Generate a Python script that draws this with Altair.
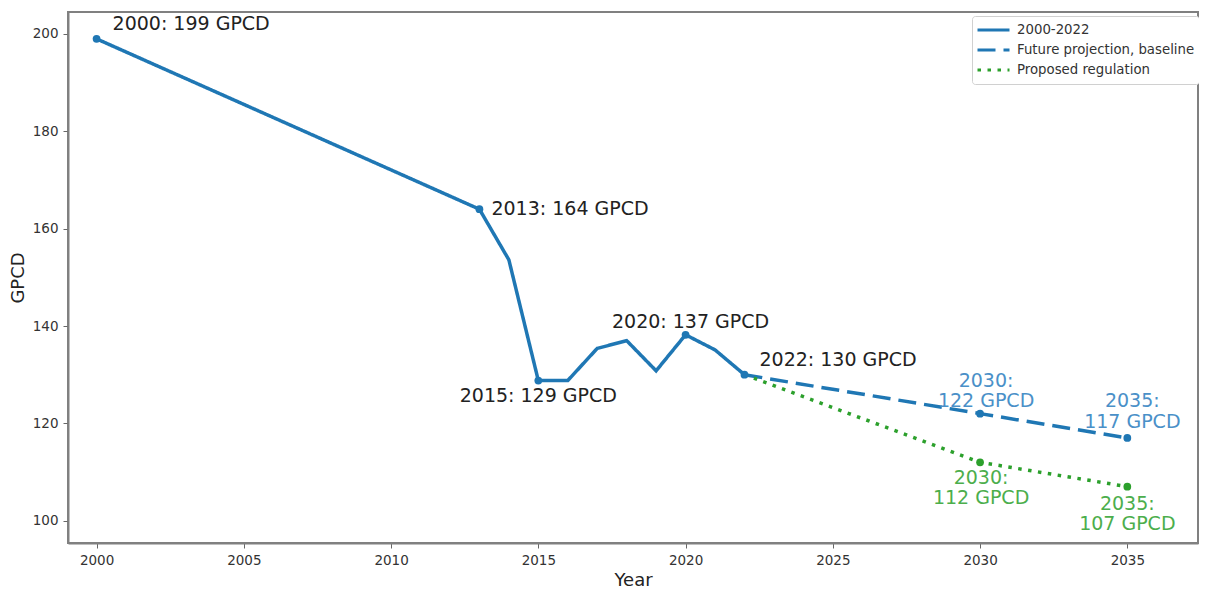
import altair as alt
import pandas as pd

# ---- data ----
hist_years = [2000, 2013, 2014, 2015, 2016, 2017, 2018, 2019, 2020, 2021, 2022]
hist_gpcd = [199, 164, 153.6, 128.8, 128.8, 135.4, 137.0, 130.8, 138.2, 135.1, 130]

base_years = [2022, 2030, 2035]
base_gpcd = [130, 122, 117]

reg_years = [2022, 2030, 2035]
reg_gpcd = [130, 112, 107]

series_names = ["2000-2022", "Future projection, baseline", "Proposed regulation"]

marker_hist_years = [2000, 2013, 2015, 2020, 2022]
marker_proj_years = [2030, 2035]

ann_years = [2000, 2013, 2015, 2020, 2022, 2030, 2035, 2030, 2035]
ann_values = [199, 164, 128.8, 138.2, 130, 122, 117, 112, 107]
ann_labels = [
    "2000: 199 GPCD", "2013: 164 GPCD", "2015: 129 GPCD", "2020: 137 GPCD",
    "2022: 130 GPCD", "2030:\n122 GPCD", "2035:\n117 GPCD",
    "2030:\n112 GPCD", "2035:\n107 GPCD",
]

x_ticks = [2000, 2005, 2010, 2015, 2020, 2025, 2030, 2035]
y_ticks = [100, 120, 140, 160, 180, 200]

# ---- tables ----
rows = []
for y, v in zip(hist_years, hist_gpcd):
    rows.append({"series": series_names[0], "year": y, "gpcd": v})
for y, v in zip(base_years, base_gpcd):
    rows.append({"series": series_names[1], "year": y, "gpcd": v})
for y, v in zip(reg_years, reg_gpcd):
    rows.append({"series": series_names[2], "year": y, "gpcd": v})
lines_df = pd.DataFrame(rows)

mk = []
for y, v in zip(hist_years, hist_gpcd):
    if y in marker_hist_years:
        mk.append({"series": series_names[0], "year": y, "gpcd": v})
for y, v in zip(base_years, base_gpcd):
    if y in marker_proj_years:
        mk.append({"series": series_names[1], "year": y, "gpcd": v})
for y, v in zip(reg_years, reg_gpcd):
    if y in marker_proj_years:
        mk.append({"series": series_names[2], "year": y, "gpcd": v})
markers_df = pd.DataFrame(mk)

ann_df = pd.DataFrame({"year": ann_years, "gpcd": ann_values, "label": ann_labels})

FONT = "DejaVu Sans"
BLUE = "#1f77b4"
GREEN = "#2ca02c"

xscale = alt.Scale(domain=[1999.03, 2037.4], nice=False, zero=False)
yscale = alt.Scale(domain=[95.42, 204.52], nice=False, zero=False)

color_scale = alt.Scale(domain=series_names, range=[BLUE, BLUE, GREEN])
dash_scale = alt.Scale(domain=series_names, range=[[1, 0], [18, 8], [3.5, 6.5]])

x_enc = alt.X("year:Q", scale=xscale,
              axis=alt.Axis(values=x_ticks, format="d", title="Year", grid=False))
y_enc = alt.Y("gpcd:Q", scale=yscale,
              axis=alt.Axis(values=y_ticks, title="GPCD", grid=False))

lines = alt.Chart(lines_df).mark_line(strokeWidth=3.5, strokeCap="butt").encode(
    x=x_enc,
    y=y_enc,
    color=alt.Color("series:N", scale=color_scale,
                    legend=alt.Legend(title=None, orient="none", legendX=904, legendY=4,
                                      symbolType="stroke", symbolSize=1024,
                                      symbolStrokeWidth=3, rowPadding=0,
                                      clipHeight=20,
                                      labelFontSize=13.3, labelFont=FONT,
                                      labelColor="#333333", labelOffset=6,
                                      labelLimit=400,
                                      padding=4, strokeColor="#d0d0d0",
                                      fillColor="white", cornerRadius=3)),
    strokeDash=alt.StrokeDash("series:N", scale=dash_scale, legend=None),
    order="year:Q",
)

points = alt.Chart(markers_df).mark_point(filled=True, size=60, opacity=1).encode(
    x="year:Q", y="gpcd:Q",
    color=alt.Color("series:N", scale=color_scale, legend=None),
)

# annotation styling: (align, dx, dy, color)
ann_style = [
    ("left", 16, -15, "#222222"),
    ("left", 12, 0, "#222222"),
    ("center", 0, 15, "#222222"),
    ("center", 5, -13, "#222222"),
    ("left", 15, -15, "#222222"),
    ("center", 6, -33, "#4a90c8"),
    ("center", 5, -36.5, "#4a90c8"),
    ("center", 1, 15.6, "#4cae4c"),
    ("center", 0, 17.3, "#4cae4c"),
]

texts = []
for i, (al, dx, dy, col) in enumerate(ann_style):
    t = alt.Chart(ann_df.iloc[[i]]).mark_text(
        align=al, baseline="middle", dx=dx, dy=dy, fontSize=19, font=FONT,
        color=col, lineBreak="\n", lineHeight=20.5,
    ).encode(x="year:Q", y="gpcd:Q", text="label:N")
    texts.append(t)

chart = alt.layer(lines, points, *texts).properties(
    width=1130, height=531,
    autosize=alt.AutoSizeParams(type="none"),
    padding={"left": 60, "top": 4, "right": 1, "bottom": 46},
).configure_view(
    stroke="#808080", strokeWidth=2,
).configure_axis(
    domainColor="#808080", domainWidth=2,
    tickColor="#666666", tickSize=5, tickWidth=1,
    labelFont=FONT, labelFontSize=13.5, labelColor="#333333", labelPadding=5,
    titleFont=FONT, titleFontSize=18, titleFontWeight="normal", titleColor="#222222",
    titlePadding=5,
)

chart.save("out.html", embed_options={"renderer": "svg", "actions": False})
